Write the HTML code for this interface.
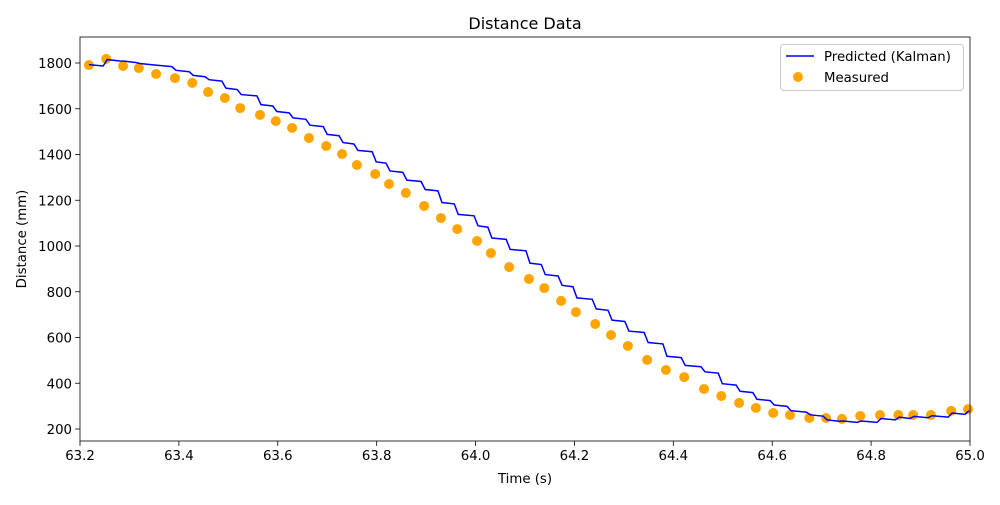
<!DOCTYPE html>
<html><head><meta charset="utf-8"><style>
body{margin:0;background:#fff}
svg text{font-family:"DejaVu Sans","Liberation Sans",sans-serif;fill:#000}
</style></head><body>
<svg id="chart" width="1000" height="500"></svg>
<script>
const times=[63.218,63.253,63.287,63.319,63.354,63.392,63.427,63.459,63.493,63.524,63.564,63.596,63.629,63.663,63.698,63.730,63.760,63.797,63.825,63.859,63.896,63.930,63.963,64.003,64.031,64.068,64.108,64.139,64.173,64.203,64.242,64.274,64.308,64.347,64.385,64.422,64.462,64.497,64.533,64.567,64.602,64.636,64.675,64.709,64.741,64.778,64.818,64.855,64.885,64.921,64.962,64.996];
const measured=[1791,1818,1787,1778,1752,1734,1713,1673,1647,1603,1573,1546,1516,1472,1437,1402,1354,1315,1271,1232,1175,1122,1074,1022,969,908,856,816,760,711,659,611,563,502,458,427,375,344,314,292,270,261,248,248,244,257,261,261,261,261,279,287];
const predicted=[1793,1815,1808,1798,1790,1768,1746,1727,1690,1662,1618,1588,1560,1528,1488,1452,1418,1368,1328,1288,1247,1190,1138,1088,1035,985,925,875,828,773,725,676,628,578,518,478,450,398,365,330,305,280,262,240,235,235,246,252,255,258,270,280];
const xTicks=[63.2,63.4,63.6,63.8,64.0,64.2,64.4,64.6,64.8,65.0];
const xTickLabels=["63.2","63.4","63.6","63.8","64.0","64.2","64.4","64.6","64.8","65.0"];
const yTicks=[200,400,600,800,1000,1200,1400,1600,1800];
const yTickLabels=["200","400","600","800","1000","1200","1400","1600","1800"];

const L=80,R=970,T=37,B=441;
const X=t=>L+(t-63.2)/(65.0-63.2)*(R-L);
const Y=v=>429-(v-200)/1600*366;
const NS="http://www.w3.org/2000/svg";
const svg=document.getElementById('chart');
function mk(tag,attrs,parent){const e=document.createElementNS(NS,tag);for(const k in attrs)e.setAttribute(k,attrs[k]);(parent||svg).appendChild(e);return e;}

const title=mk('text',{x:(L+R)/2,y:29,'text-anchor':'middle','font-size':'16'});title.textContent='Distance Data';



xTicks.forEach((t,i)=>{
  const g=mk('g',{});
  
  
  mk('line',{x1:X(t),x2:X(t),y1:B,y2:B+4.9,stroke:'#000','stroke-width':0.8},g);
  const tx=mk('text',{x:X(t),y:B+19,'text-anchor':'middle','font-size':'13.3'},g);tx.textContent=xTickLabels[i];
});
yTicks.forEach((v,i)=>{
  const g=mk('g',{});
  
  
  mk('line',{x1:L-4.9,x2:L,y1:Y(v),y2:Y(v),stroke:'#000','stroke-width':0.8},g);
  const tx=mk('text',{x:L-8,y:Y(v)+5,'text-anchor':'end','font-size':'13.3'},g);tx.textContent=yTickLabels[i];
});
const xl=mk('text',{x:(L+R)/2,y:483,'text-anchor':'middle','font-size':'13.3'});xl.textContent='Time (s)';


const yl=mk('text',{x:0,y:0,'text-anchor':'middle','font-size':'13.3',transform:`translate(26,${(T+B)/2}) rotate(-90)`});yl.textContent='Distance (mm)';



const dots=mk('g',{});


times.forEach((t,i)=>{
  const c=mk('circle',{cx:X(t),cy:Y(measured[i]),r:5,fill:'#ffa500'},dots);
  
  
});
let d='M'+X(times[0])+','+Y(predicted[0]);
for(let i=1;i<times.length;i++){
  d+=' L'+(X(times[i])-3)+','+Y(predicted[i-1]-6);
  d+=' L'+(X(times[i])+1)+','+Y(predicted[i]);
}
const line=mk('path',{d:d,fill:'none',stroke:'#0000ff','stroke-width':1.5});



const frame=mk('rect',{x:L,y:T,width:R-L,height:B-T,fill:'none',stroke:'#000','stroke-width':0.8});



const lg=mk('g',{});


mk('rect',{x:780.5,y:44.5,width:183,height:46,rx:3,fill:'#fff',stroke:'#ccc','stroke-width':1},lg);
mk('line',{x1:786,x2:814,y1:56,y2:56,stroke:'#0000ff','stroke-width':1.5},lg);
const t1=mk('text',{x:824,y:61,'font-size':'13.3'},lg);t1.textContent='Predicted (Kalman)';
mk('circle',{cx:798,cy:77,r:5,fill:'#ffa500'},lg);
const t2=mk('text',{x:824,y:82,'font-size':'13.3'},lg);t2.textContent='Measured';
</script>
</body></html>
